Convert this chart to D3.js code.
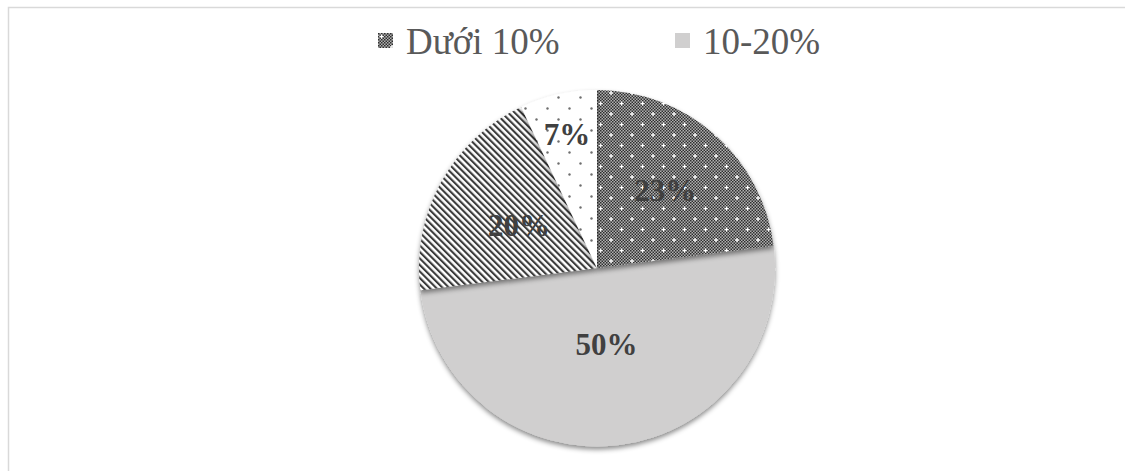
<!DOCTYPE html>
<html>
<head>
<meta charset="utf-8">
<script src="https://cdn.jsdelivr.net/npm/d3@7"></script>
<style>
  body { margin: 0; background: #fff; }
  svg { display: block; }
  text { font-family: "Liberation Serif", "Times New Roman", Times, serif; }
</style>
</head>
<body>
<svg id="chart" width="1125" height="471"></svg>
<script>
// slices clockwise from 12 o'clock
const categories = ["Dưới 10%", "10-20%", "20-30%", "Trên 30%"];
const shares = [23, 50, 20, 7];
const labels = ["23%", "50%", "20%", "7%"];
const legendItems = ["Dưới 10%", "10-20%"];

const width = 1125, height = 471;
const cx = 597, cy = 268, radius = 178;
const labelRadius = [0.58, 0.43, 0.5, 0.77];

var svg = d3.select("#chart");
var defs = svg.append("defs");

// fine checker used under the white crosses
var chk = defs.append("pattern").attr("id", "chk")
	.attr("patternUnits", "userSpaceOnUse").attr("width", 3).attr("height", 3);
chk.append("rect").attr("width", 3).attr("height", 3).attr("fill", "#b0b0b0");
chk.append("rect").attr("width", 1.5).attr("height", 1.5).attr("fill", "#2e2e2e");
chk.append("rect").attr("x", 1.5).attr("y", 1.5).attr("width", 1.5).attr("height", 1.5).attr("fill", "#2e2e2e");

var grid = defs.append("pattern").attr("id", "pat0")
	.attr("patternUnits", "userSpaceOnUse").attr("width", 21).attr("height", 21);
grid.append("rect").attr("width", 21).attr("height", 21).attr("fill", "url(#chk)");
[[3.5, 3.5], [14, 14]].forEach(p => {
	grid.append("rect").attr("x", p[0] - 2).attr("y", p[1] - 0.6).attr("width", 4).attr("height", 1.2).attr("fill", "#fff");
	grid.append("rect").attr("x", p[0] - 0.6).attr("y", p[1] - 2).attr("width", 1.2).attr("height", 4).attr("fill", "#fff");
});

var stripes = defs.append("pattern").attr("id", "pat2")
	.attr("patternUnits", "userSpaceOnUse").attr("width", 4.6).attr("height", 10)
	.attr("patternTransform", "rotate(-45)");
stripes.append("rect").attr("width", 4.6).attr("height", 10).attr("fill", "#fff");
stripes.append("rect").attr("width", 2.1).attr("height", 10).attr("fill", "#3a3a3a");

var dots = defs.append("pattern").attr("id", "pat3")
	.attr("patternUnits", "userSpaceOnUse").attr("width", 22).attr("height", 22);
dots.append("rect").attr("width", 22).attr("height", 22).attr("fill", "#fff");
dots.append("circle").attr("cx", 5.5).attr("cy", 5.5).attr("r", 1.2).attr("fill", "#6e6e6e");
dots.append("circle").attr("cx", 16.5).attr("cy", 16.5).attr("r", 1.2).attr("fill", "#6e6e6e");

const fills = ["url(#pat0)", "#d0cfcf", "url(#pat2)", "url(#pat3)"];

var shadow = defs.append("filter").attr("id", "shadow")
	.attr("x", "-20%").attr("y", "-20%").attr("width", "140%").attr("height", "140%");
shadow.append("feDropShadow").attr("dx", 0).attr("dy", 3).attr("stdDeviation", 2.5)
	.attr("flood-color", "#000").attr("flood-opacity", 0.45);

// chart frame (runs off the right and bottom edge)
svg.append("rect")
	.attr("x", 8.5).attr("y", 7.5)
	.attr("width", width).attr("height", height)
	.attr("fill", "none").attr("stroke", "#d9d9d9").attr("stroke-width", 1.5);

var pie = d3.pie().sort(null).value(d => d)(shares);
var arc = d3.arc().innerRadius(0).outerRadius(radius);

var g = svg.append("g").attr("transform", `translate(${cx},${cy})`);

// draw the big slice first so the others drop their shadow on it
var order = [1, 0, 2, 3];
g.selectAll(".slice")
	.data(order.map(i => Object.assign({ idx: i }, pie[i])))
	.enter()
	.append("path")
	.attr("class", "slice")
	.attr("d", arc)
	.attr("fill", d => fills[d.idx])
	.attr("filter", "url(#shadow)");

g.selectAll(".lbl")
	.data(pie)
	.enter()
	.append("text")
	.attr("class", "lbl")
	.attr("transform", (d, i) => {
		const a = d3.arc().innerRadius(0).outerRadius(radius * labelRadius[i] * 2);
		const c = a.centroid(d);
		return `translate(${c[0]},${c[1]})`;
	})
	.attr("text-anchor", "middle")
	.attr("dy", "0.35em")
	.attr("font-weight", "bold")
	.attr("font-size", 31)
	.attr("fill", "#404040")
	.text((d, i) => labels[i]);

// legend
var legendX = d3.scalePoint().domain(legendItems).range([378, 675]);
var lg = svg.selectAll(".leg")
	.data(legendItems)
	.enter()
	.append("g")
	.attr("class", "leg")
	.attr("transform", d => `translate(${legendX(d)},33)`);
lg.append("rect")
	.attr("width", 15).attr("height", 15)
	.attr("fill", (d, i) => fills[i]);
lg.append("text")
	.attr("x", 28).attr("y", 21)
	.attr("font-size", 37)
	.attr("fill", "#595959")
	.text(d => d);
</script>
</body>
</html>
